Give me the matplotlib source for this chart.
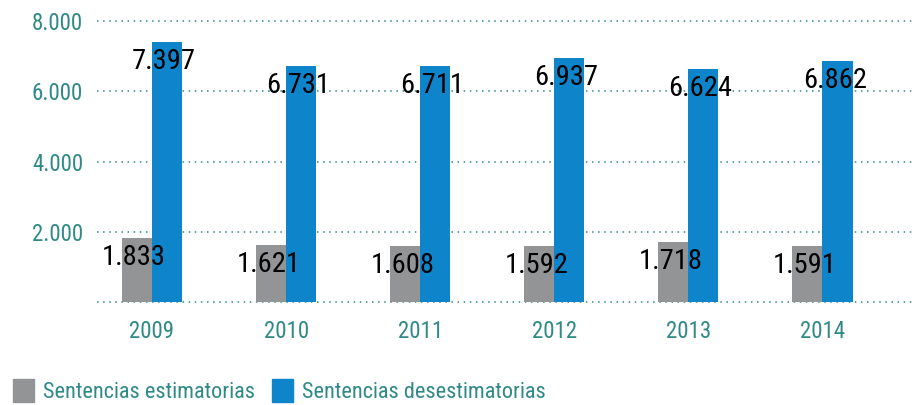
import numpy as np
import matplotlib.pyplot as plt
from matplotlib.patches import Patch

years = ['2009', '2010', '2011', '2012', '2013', '2014']
estimatorias = [1833, 1621, 1608, 1592, 1718, 1591]
desestimatorias = [7397, 6731, 6711, 6937, 6624, 6862]
yticks = [2000, 4000, 6000, 8000]
ytick_labels = ['2.000', '4.000', '6.000', '8.000']

gray = '#929495'
blue = '#0e85cb'
teal = '#2f8a87'

plt.rcParams['font.family'] = ['Roboto Condensed', 'Liberation Sans Narrow', 'Roboto', 'DejaVu Sans']

fig = plt.figure(figsize=(9.15, 4.05), dpi=100)
ax = fig.add_axes([0.106, 0.254, 0.894, 0.694])

x = np.arange(len(years))
w = 0.224
b1 = ax.bar(x - w / 2, estimatorias, w, color=gray, zorder=3)
b2 = ax.bar(x + w / 2, desestimatorias, w, color=blue, zorder=3)

def fmt(v):
    return f'{v:,}'.replace(',', '.')

# value labels sit just under the top of each bar
for bars, vals in ((b1, estimatorias), (b2, desestimatorias)):
    for bar, v in zip(bars, vals):
        ax.annotate(fmt(v), (bar.get_x() + bar.get_width() / 2, v),
                    xytext=(-2, -14), textcoords='offset points',
                    ha='center', va='center', fontsize=20.5, color='black', zorder=4)

ax.set_xlim(-0.41, 5.69)
ax.set_ylim(0, 8000)
ax.set_xticks(x)
ax.set_xticklabels(years)
ax.set_yticks(yticks)
ax.set_yticklabels(ytick_labels)
ax.tick_params(length=0, labelsize=16.5, labelcolor=teal)
ax.tick_params(axis='x', pad=13)
ax.tick_params(axis='y', pad=10)

for y in [0] + yticks:
    ax.axhline(y, color=teal, linestyle=(0, (1, 3)), linewidth=1.1, zorder=1, clip_on=False)

for s in ax.spines.values():
    s.set_visible(False)

handles = [Patch(color=gray), Patch(color=blue)]
fig.legend(handles, ['Sentencias estimatorias', 'Sentencias desestimatorias'],
           loc='lower left', bbox_to_anchor=(0.0, -0.028), ncol=2, frameon=False,
           fontsize=16, labelcolor=teal, handlelength=0.95, handleheight=1.15,
           handletextpad=0.4, columnspacing=0.75, borderaxespad=0.2)

fig.savefig('out.png', dpi=100)
